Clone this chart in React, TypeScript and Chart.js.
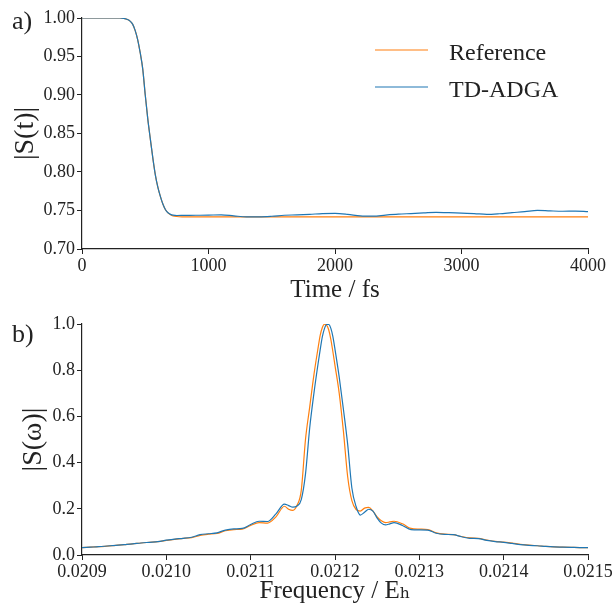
import React, { useEffect, useRef } from "react";
import { Chart, registerables } from "chart.js";

Chart.register(...registerables);

// ---------- Panel a) : |S(t)| vs time ----------
const TIME_FS = [
  0, 100, 200, 300, 330, 360, 380, 400, 420, 440, 460, 480, 500, 520, 540, 560, 580, 600, 620, 640,
  660, 680, 700, 720, 750, 800,
  900, 1000, 1100, 1200, 1300, 1400, 1500, 1600, 1700, 1800, 1900, 2000, 2100, 2200, 2300,
  2400, 2500, 2600, 2700, 2800, 2900, 3000, 3100, 3200, 3300, 3400, 3500, 3600, 3700, 3800, 3900, 4000,
];
const ST_REFERENCE = [
  1.0, 1.0, 1.0, 1.0, 0.9995, 0.998, 0.996, 0.992, 0.984, 0.972, 0.955, 0.934, 0.9, 0.869, 0.843, 0.818,
  0.796, 0.78, 0.768, 0.758, 0.751, 0.747, 0.7445, 0.743, 0.7422, 0.7418,
  0.7416, 0.7416, 0.7416, 0.7416, 0.7416, 0.7416, 0.7416, 0.7416, 0.7416, 0.7416, 0.7416, 0.7416,
  0.7416, 0.7416, 0.7416, 0.7416, 0.7416, 0.7416, 0.7416, 0.7416, 0.7416, 0.7416, 0.7416, 0.7416,
  0.7416, 0.7416, 0.7416, 0.7416, 0.7416, 0.7416, 0.7416, 0.7416,
];
const ST_TDADGA = [
  1.0, 1.0, 1.0, 1.0, 0.9995, 0.998, 0.996, 0.992, 0.984, 0.972, 0.955, 0.934, 0.9, 0.869, 0.843, 0.818,
  0.796, 0.78, 0.768, 0.758, 0.751, 0.747, 0.745, 0.744, 0.7435, 0.7436,
  0.7438, 0.744, 0.7443, 0.743, 0.7418, 0.7418, 0.7425, 0.7438, 0.7443, 0.745, 0.746, 0.7462,
  0.745, 0.743, 0.7426, 0.744, 0.7452, 0.746, 0.7468, 0.7476, 0.7472, 0.7465, 0.746, 0.745,
  0.7458, 0.7472, 0.7485, 0.7502, 0.7495, 0.749, 0.7492, 0.7485,
];
const TIME_TICKS = [0, 1000, 2000, 3000, 4000];
const ST_TICKS = [0.7, 0.75, 0.8, 0.85, 0.9, 0.95, 1.0];

// ---------- Panel b) : |S(omega)| vs frequency ----------
const FREQ_EH = [
  0.0209, 0.02091, 0.02092, 0.02093, 0.02094, 0.02095, 0.02096, 0.02097, 0.02098, 0.02099,
  0.021, 0.02101, 0.02102, 0.02103, 0.02104, 0.02105, 0.02106, 0.02107, 0.02108, 0.02109,
  0.0211, 0.02111, 0.02112, 0.02113,
  0.02114, 0.021145, 0.02115, 0.021155, 0.02116, 0.021165, 0.02117, 0.021175,
  0.02118, 0.0211825, 0.021185, 0.0211875, 0.02119, 0.0211925, 0.021195, 0.0211975, 0.0212,
  0.021205, 0.02121, 0.021215, 0.02122, 0.021225, 0.02123, 0.021235, 0.02124, 0.021245, 0.02125,
  0.021255, 0.02126, 0.021265,
  0.02127, 0.02128, 0.02129, 0.0213, 0.02131, 0.02132, 0.02133, 0.02134, 0.02135, 0.02136,
  0.02137, 0.02138, 0.02139, 0.0214, 0.02141, 0.02142, 0.02143, 0.02144, 0.02145, 0.02146,
  0.02147, 0.02148, 0.02149, 0.0215,
];
const SW_REFERENCE = [
  0.032, 0.034, 0.036, 0.038, 0.042, 0.045, 0.048, 0.052, 0.055, 0.058,
  0.063, 0.068, 0.072, 0.075, 0.085, 0.09, 0.093, 0.105, 0.11, 0.112,
  0.128, 0.14, 0.138, 0.165,
  0.211, 0.198, 0.193, 0.215, 0.28, 0.5, 0.64, 0.78,
  0.898, 0.952, 0.985, 0.999, 0.995, 0.975, 0.935, 0.88, 0.82,
  0.7, 0.535, 0.34, 0.235, 0.197, 0.19, 0.203, 0.206, 0.19, 0.165,
  0.148, 0.14, 0.143,
  0.146, 0.135, 0.115, 0.112, 0.11, 0.096, 0.09, 0.088, 0.08, 0.074,
  0.072, 0.065, 0.059, 0.056, 0.052, 0.046, 0.043, 0.04, 0.037, 0.035,
  0.034, 0.033, 0.032, 0.032,
];
const SW_TDADGA = [
  0.032, 0.034, 0.036, 0.039, 0.042, 0.045, 0.048, 0.052, 0.055, 0.058,
  0.064, 0.069, 0.072, 0.077, 0.088, 0.092, 0.096, 0.108, 0.113, 0.115,
  0.132, 0.146, 0.145, 0.178,
  0.22, 0.214, 0.207, 0.212, 0.24, 0.35, 0.55, 0.7,
  0.83, 0.89, 0.945, 0.98, 0.998, 0.998, 0.982, 0.945, 0.89,
  0.77, 0.63, 0.48, 0.29, 0.21, 0.173, 0.185, 0.198, 0.19, 0.16,
  0.138, 0.13, 0.135,
  0.14, 0.128, 0.11, 0.109, 0.108, 0.094, 0.089, 0.088, 0.079, 0.072,
  0.071, 0.063, 0.058, 0.055, 0.05, 0.045, 0.042, 0.04, 0.037, 0.035,
  0.034, 0.033, 0.032, 0.032,
];
const FREQ_TICKS = [0.0209, 0.021, 0.0211, 0.0212, 0.0213, 0.0214, 0.0215];
const SW_TICKS = [0, 0.2, 0.4, 0.6, 0.8, 1.0];

const SERIES_LABELS = ["Reference", "TD-ADGA"];
const SERIES_COLORS = ["#ff7f0e", "#1f77b4"];

const FONT = "'Liberation Serif', 'DejaVu Serif', serif";
const INK = "#222222";

function toPoints(xs: number[], ys: number[]) {
  return xs.map((x, i) => ({ x, y: ys[i] }));
}

function makePanelLabelPlugin(text: string, x: number, y: number) {
  return {
    id: "panelLabel",
    afterDraw(chart: any) {
      const ctx = chart.ctx;
      ctx.save();
      ctx.fillStyle = INK;
      ctx.font = `26px ${FONT}`;
      ctx.textBaseline = "alphabetic";
      ctx.textAlign = "left";
      ctx.fillText(text, x, y);
      ctx.restore();
    },
  };
}

const legendPlugin = {
  id: "innerLegend",
  afterDraw(chart: any) {
    const ctx = chart.ctx;
    const ds = chart.data.datasets;
    ctx.save();
    ctx.font = `24px ${FONT}`;
    ctx.textBaseline = "alphabetic";
    ctx.textAlign = "left";
    const rows = [
      { lineY: 50, baseY: 60 },
      { lineY: 87, baseY: 97 },
    ];
    ds.forEach((d: any, i: number) => {
      const r = rows[i];
      ctx.strokeStyle = d.borderColor;
      ctx.lineWidth = 1.2;
      ctx.beginPath();
      ctx.moveTo(375, r.lineY);
      ctx.lineTo(428, r.lineY);
      ctx.stroke();
      ctx.fillStyle = INK;
      ctx.fillText(d.label, 449, r.baseY);
    });
    ctx.restore();
  },
};

function baseScale(ticksArr: number[], decimals: number, min: number, max: number, title: string, titleSize: number, titlePad: any, isY: boolean, fitSize: number) {
  return {
    type: "linear",
    min,
    max,
    afterBuildTicks: (axis: any) => {
      axis.ticks = ticksArr.map((v) => ({ value: v }));
    },
    afterFit: (axis: any) => {
      if (isY) axis.width = fitSize;
      else axis.height = fitSize;
    },
    ticks: {
      color: INK,
      font: { family: FONT, size: 18 },
      padding: isY ? 2 : 1,
      maxRotation: 0,
      autoSkip: false,
      callback: (v: any) => Number(v).toFixed(decimals),
    },
    grid: {
      display: true,
      drawOnChartArea: false,
      drawTicks: true,
      tickLength: 5,
      tickWidth: 1,
      color: INK,
    },
    border: { display: true, color: INK, width: 1.2 },
    title: {
      display: true,
      text: title,
      color: INK,
      font: { family: FONT, size: titleSize },
      padding: titlePad,
    },
  };
}

function makeDatasets(xs: number[], refY: number[], tdY: number[]) {
  return [
    {
      label: SERIES_LABELS[0],
      data: toPoints(xs, refY),
      borderColor: SERIES_COLORS[0],
      borderWidth: 1.2,
      pointRadius: 0,
      cubicInterpolationMode: "monotone",
      fill: false,
      order: 1,
    },
    {
      label: SERIES_LABELS[1],
      data: toPoints(xs, tdY),
      borderColor: SERIES_COLORS[1],
      borderWidth: 1.2,
      pointRadius: 0,
      cubicInterpolationMode: "monotone",
      fill: false,
      order: 0,
    },
  ];
}

export default function App() {
  const topRef = useRef<HTMLCanvasElement | null>(null);
  const botRef = useRef<HTMLCanvasElement | null>(null);

  useEffect(() => {
    const top = new Chart(topRef.current as HTMLCanvasElement, {
      type: "line",
      data: { datasets: makeDatasets(TIME_FS, ST_REFERENCE, ST_TDADGA) as any },
      options: {
        animation: false,
        responsive: false,
        layout: { padding: { top: 18, right: 27, left: 0, bottom: 0 } },
        plugins: { legend: { display: false }, tooltip: { enabled: false } },
        scales: {
          x: baseScale(TIME_TICKS, 0, 0, 4000, "Time / fs", 25, { top: 0, bottom: 0 }, false, 56) as any,
          y: baseScale(ST_TICKS, 2, 0.7, 1.0, "|S(t)|", 28, { top: 9, bottom: 0 }, true, 82) as any,
        },
      },
      plugins: [legendPlugin, makePanelLabelPlugin("a)", 12, 28.5)],
    });
    const bot = new Chart(botRef.current as HTMLCanvasElement, {
      type: "line",
      data: { datasets: makeDatasets(FREQ_EH, SW_REFERENCE, SW_TDADGA) as any },
      options: {
        animation: false,
        responsive: false,
        layout: { padding: { top: 19, right: 27, left: 0, bottom: 0 } },
        plugins: { legend: { display: false }, tooltip: { enabled: false } },
        scales: {
          x: baseScale(FREQ_TICKS, 4, 0.0209, 0.0215, "Frequency / E\u2095", 25, { top: 0, bottom: 5 }, false, 56) as any,
          y: baseScale(SW_TICKS, 1, 0, 1.0, "|S(\u03c9)|", 28, { top: 17, bottom: 0 }, true, 82) as any,
        },
      },
      plugins: [makePanelLabelPlugin("b)", 12, 36.7)],
    });
    return () => {
      top.destroy();
      bot.destroy();
    };
  }, []);

  return (
    <div style={{ position: "fixed", left: 0, top: 0, width: 615, height: 611, background: "#fff" }}>
      <canvas ref={topRef} width={615} height={305} style={{ display: "block", width: 615, height: 305 }} />
      <canvas ref={botRef} width={615} height={306} style={{ display: "block", width: 615, height: 306 }} />
    </div>
  );
}
